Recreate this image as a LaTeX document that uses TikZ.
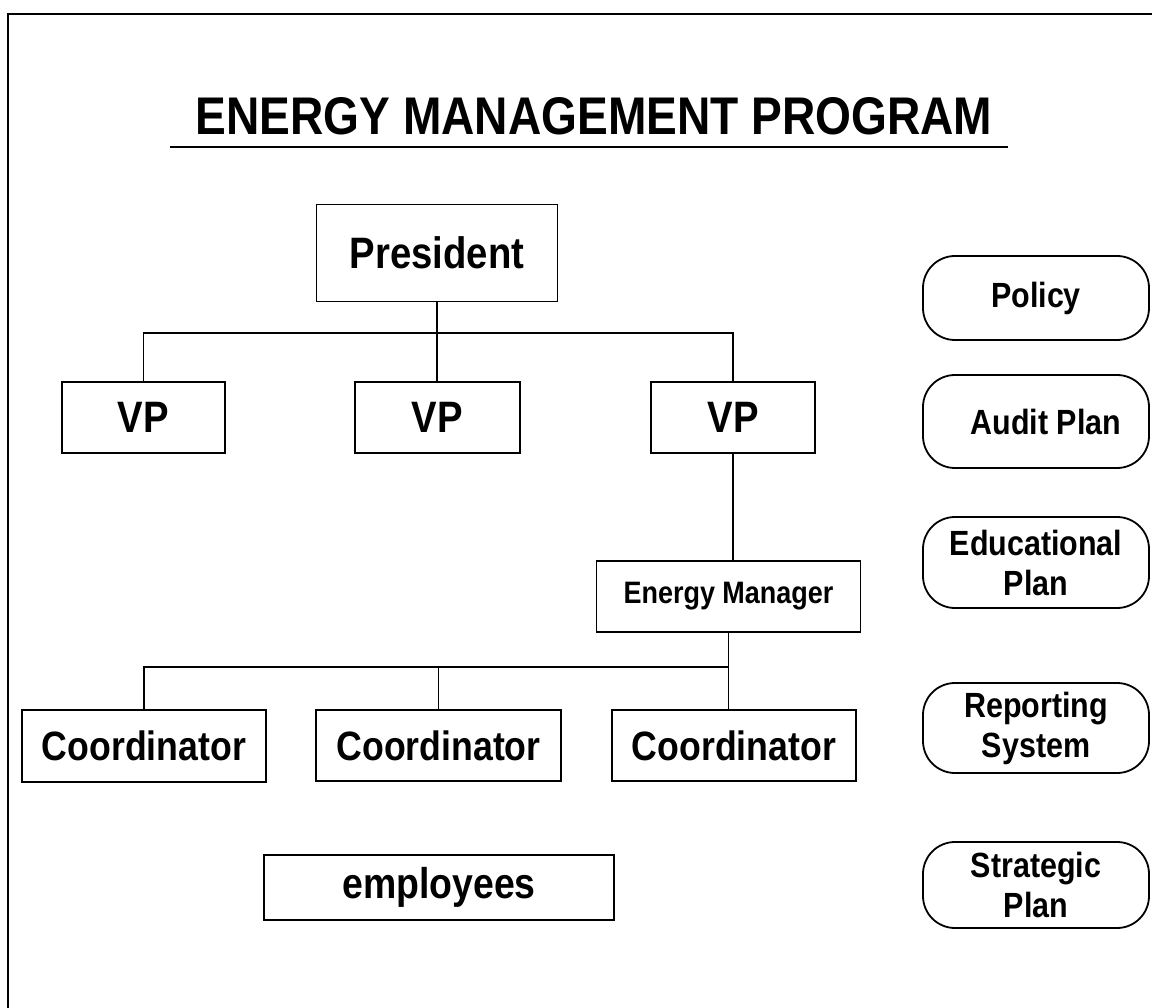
\documentclass[tikz,border=0pt]{standalone}
\usepackage{fontspec}
\setmainfont{Liberation Sans}[FakeStretch=0.87]
\begin{document}
\begin{tikzpicture}[x=1pt,y=-1pt,
  line width=1.8pt,
  box/.style={draw, rectangle, inner sep=0pt, font=\bfseries\fontsize{40}{44}\selectfont},
  side/.style={draw, rectangle, rounded corners=32pt, inner sep=0pt, minimum width=226pt,
     align=center, font=\bfseries\fontsize{35}{40}\selectfont},
  conn/.style={line width=1.6pt}]
\useasboundingbox (0,0) rectangle (1152,1008);
% frame
\draw[line width=2.4pt] (8,1008) -- (8,14) -- (1152,14);
% title
\node[anchor=base, inner sep=0pt, font=\bfseries\fontsize{53}{60}\selectfont] (title) at (594,135) {ENERGY MANAGEMENT PROGRAM};
\draw[line width=1.6pt] (170,147) -- (1008,147);
% org chart
\node[box, minimum width=241pt, minimum height=97pt, font=\bfseries\fontsize{44}{48}\selectfont] (pres) at (437,253) {President};
\node[box, minimum width=163pt, minimum height=71pt, font=\bfseries\fontsize{44}{48}\selectfont] (vp1) at (143.5,417.5) {VP};
\node[box, minimum width=165pt, minimum height=71pt, font=\bfseries\fontsize{44}{48}\selectfont] (vp2) at (437.5,417.5) {VP};
\node[box, minimum width=164pt, minimum height=71pt, font=\bfseries\fontsize{44}{48}\selectfont] (vp3) at (733,417.5) {VP};
\node[box, minimum width=264pt, minimum height=71pt, font=\bfseries\fontsize{31}{36}\selectfont] (em) at (728.5,596.5) {Energy Manager};
\node[box, minimum width=244pt, minimum height=72pt, font=\bfseries\fontsize{41}{46}\selectfont] (c1) at (144,746) {Coordinator};
\node[box, minimum width=245pt, minimum height=71pt, font=\bfseries\fontsize{41}{46}\selectfont] (c2) at (438.5,745.5) {Coordinator};
\node[box, minimum width=244pt, minimum height=71pt, font=\bfseries\fontsize{41}{46}\selectfont] (c3) at (734,745.5) {Coordinator};
\node[box, minimum width=350pt, minimum height=65pt, font=\bfseries\fontsize{43}{48}\selectfont] (emp) at (439,887.5) {employees};
% connectors
\coordinate (bus1) at (0,333);
\coordinate (bus2) at (0,667);
\draw[conn] (pres.south) -- (pres.south |- vp2.north);
\draw[conn] (vp1.north) -- (vp1.north |- bus1) -| (vp3.north);
\draw[conn] (vp3.south) -- (vp3.south |- em.north);
\draw[conn] (em.south) -- (em.south |- c3.north);
\draw[conn] (c1.north) -- (c1.north |- bus2) -- (em.south |- bus2);
\draw[conn] (c2.north) -- (c2.north |- bus2);
% side boxes
\node[side, minimum height=84pt] (policy) at (1036,298) {Policy};
\node[side, minimum height=93pt] (audit) at (1036,421.5) {\hspace*{20pt}Audit Plan};
\node[side, minimum height=91pt] (edu) at (1036,562.5) {Educational\\Plan};
\node[side, minimum height=90pt] (rep) at (1036,728) {Reporting\\System};
\node[side, minimum height=86pt] (strat) at (1036,885) {Strategic\\Plan};
\end{tikzpicture}
\end{document}
